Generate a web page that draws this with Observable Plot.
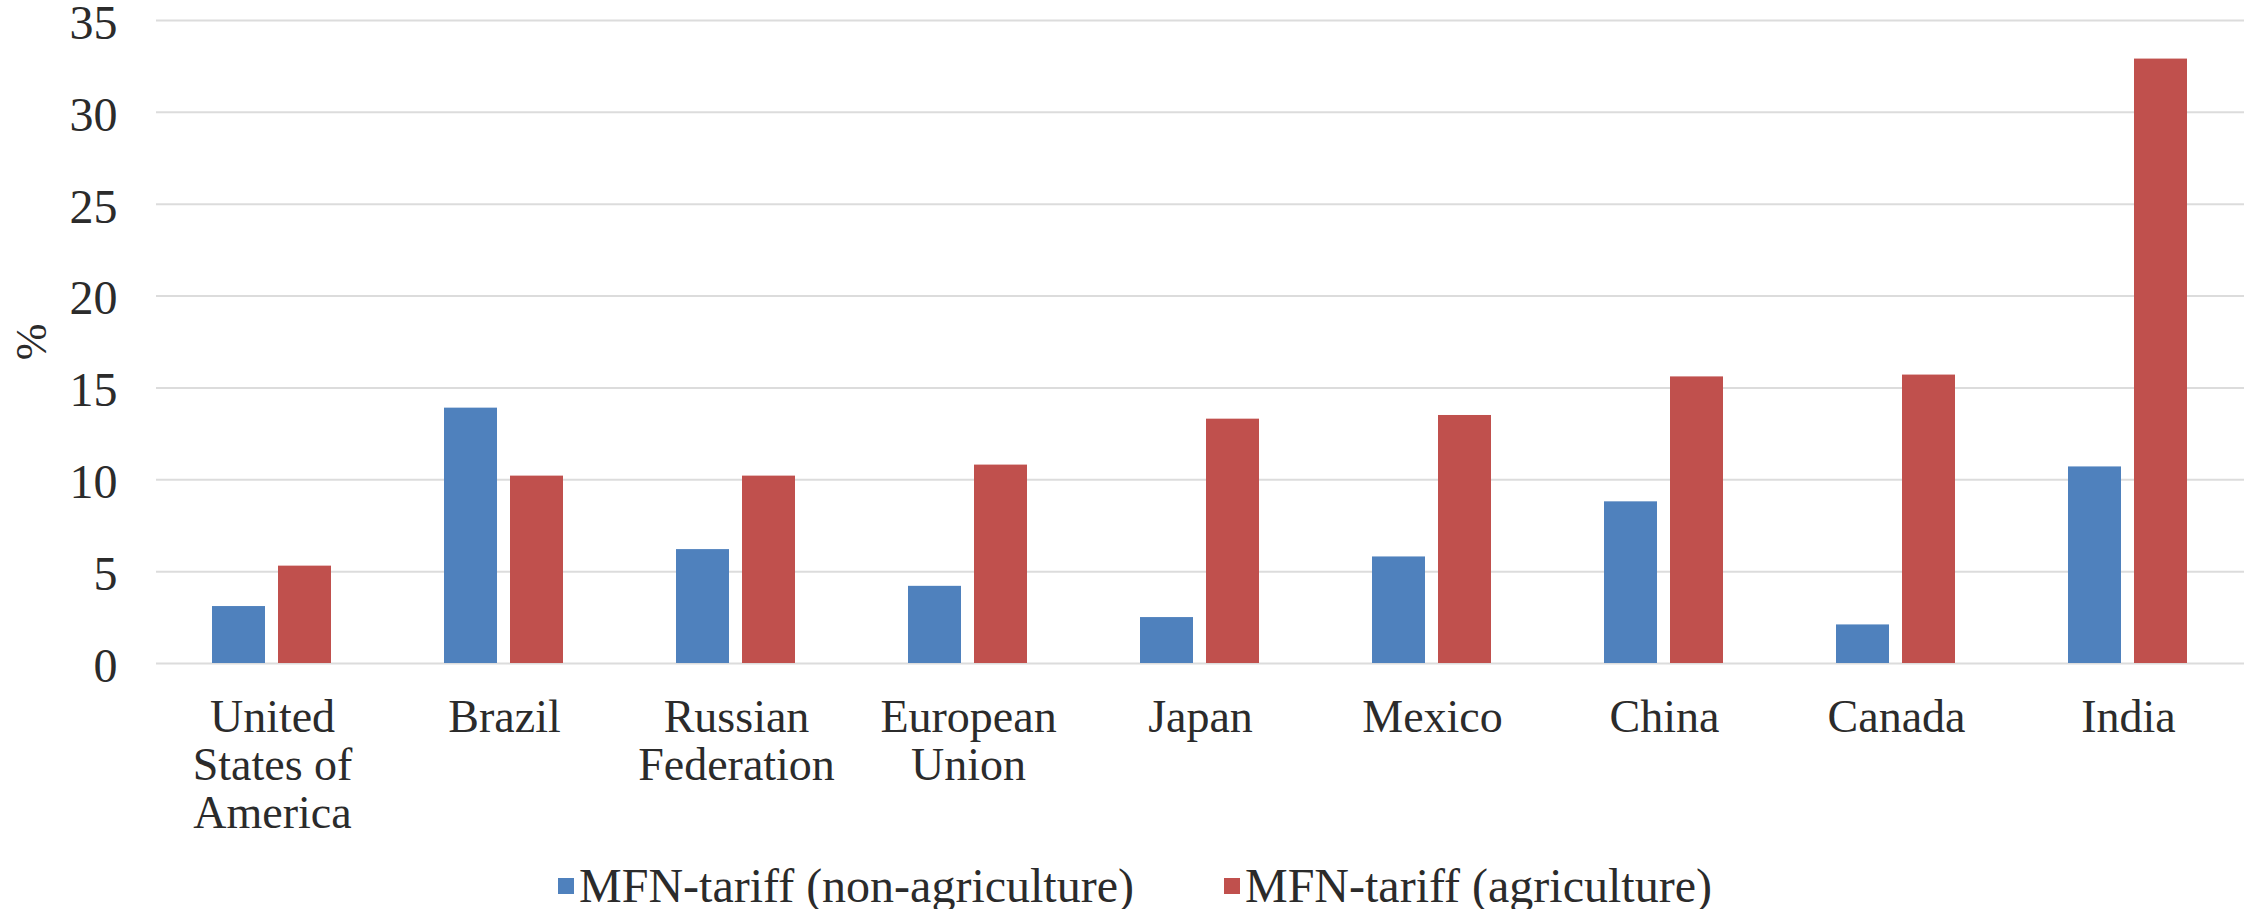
<!DOCTYPE html>
<html>
<head>
<meta charset="utf-8">
<script src="https://cdn.jsdelivr.net/npm/d3@7"></script>
<script src="https://cdn.jsdelivr.net/npm/@observablehq/plot@0.6"></script>
<style>
  html, body { margin: 0; padding: 0; background: #fff; }
  #chart svg { display: block; }
  .legend {
    height: 47px;
    padding-top: 12px;
    padding-left: 18px;
    display: flex;
    justify-content: center;
    align-items: center;
    font-family: "Liberation Serif", serif;
    font-size: 48px;
    color: #2b2b2b;
  }
  .legend .item { display: flex; align-items: center; }
  .legend .item + .item { margin-left: 90px; }
  .legend .swatch { width: 16px; height: 16px; margin-right: 5px; }
</style>
</head>
<body>
<div id="chart"></div>
<div class="legend" id="legend"></div>
<script>
// Economies, in display order
const countries = [
  "United States of America", "Brazil", "Russian Federation", "European Union",
  "Japan", "Mexico", "China", "Canada", "India"
];
// Tick labels, wrapped onto several lines
const tickLabels = [
  "United\nStates of\nAmerica", "Brazil", "Russian\nFederation", "European\nUnion",
  "Japan", "Mexico", "China", "Canada", "India"
];
// Simple average MFN applied tariffs, %
const nonAgriculture = [3.1, 13.9, 6.2, 4.2, 2.5, 5.8, 8.8, 2.1, 10.7];
const agriculture    = [5.3, 10.2, 10.2, 10.8, 13.3, 13.5, 15.6, 15.7, 32.9];

const seriesNames = ["MFN-tariff (non-agriculture)", "MFN-tariff (agriculture)"];
const seriesColors = ["#4f81bd", "#c0504d"];
const yTicks = [0, 5, 10, 15, 20, 25, 30, 35];

const rows = countries.flatMap((c, i) => [
  {country: c, series: seriesNames[0], value: nonAgriculture[i]},
  {country: c, series: seriesNames[1], value: agriculture[i]}
]);

const font = "Liberation Serif";
const textColor = "#2b2b2b";

const chart = Plot.plot({
  width: 2252,
  height: 850,
  marginLeft: 152,
  marginRight: 5,
  marginTop: 20,
  marginBottom: 187,
  style: {fontFamily: font, color: textColor, background: "#fff", overflow: "visible"},
  fx: {domain: countries, padding: 0},
  x: {domain: seriesNames, paddingInner: 0.194, paddingOuter: 0.834, axis: null},
  y: {domain: [0, 35]},
  color: {domain: seriesNames, range: seriesColors},
  marks: [
    Plot.gridY({ticks: yTicks, stroke: "#dcdcdc", strokeOpacity: 1, strokeWidth: 2}),
    Plot.barY(rows, {fx: "country", x: "series", y: "value", fill: "series"}),
    Plot.axisY({
      ticks: yTicks,
      tickSize: 0,
      tickPadding: 39,
      fontSize: 48,
      dy: 3,
      fill: textColor,
      label: null
    }),
    Plot.axisY({
      ticks: [],
      tickSize: 0,
      fontSize: 44,
      fill: textColor,
      label: "%",
      labelAnchor: "center",
      labelArrow: "none",
      labelOffset: 142
    }),
    Plot.axisFx({
      anchor: "bottom",
      tickSize: 0,
      tickPadding: 34,
      fontSize: 46,
      lineHeight: 1.05,
      fill: textColor,
      label: null,
      tickFormat: d => tickLabels[countries.indexOf(d)]
    })
  ]
});
document.getElementById("chart").append(chart);

// Legend below the chart
const legend = document.getElementById("legend");
seriesNames.forEach((name, i) => {
  const item = document.createElement("div");
  item.className = "item";
  const sw = document.createElement("span");
  sw.className = "swatch";
  sw.style.background = seriesColors[i];
  const label = document.createElement("span");
  label.textContent = name;
  item.append(sw, label);
  legend.append(item);
});
</script>
</body>
</html>
